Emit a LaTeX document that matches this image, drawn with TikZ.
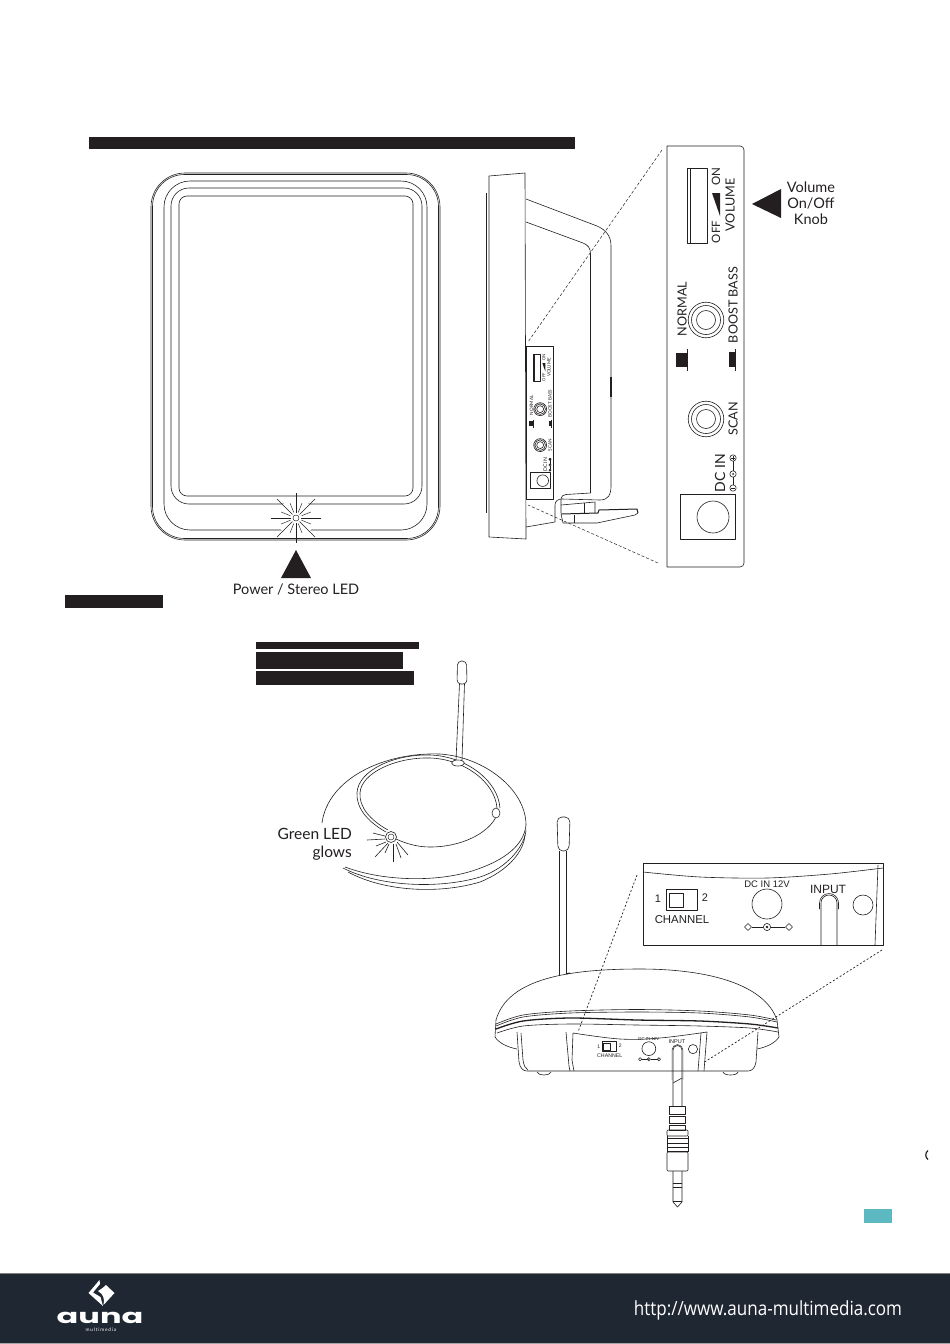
\documentclass[tikz,border=0pt]{standalone}
\usepackage{fontspec}
\setmainfont{Lato}
\newfontfamily\armfont{Liberation Sans}
\newfontfamily\webfont{Open Sans}
\newfontfamily\logofont{Poppins}
\definecolor{inkdark}{HTML}{231F20}
\definecolor{footbg}{HTML}{1F2733}
\definecolor{tealtab}{HTML}{5CB9C1}
\newcommand{\px}[1]{\fontsize{#1}{#1}\selectfont}
\tikzset{
    thinline/.style={draw=inkdark, line width=0.6pt, line join=round},
    hairline/.style={draw=inkdark, line width=0.45pt, line join=round},
    heavyline/.style={draw=inkdark, line width=1.3pt, line join=round},
    zoomline/.style={draw=inkdark, line width=0.5pt, dash pattern=on 3pt off 2pt},
    dotline/.style={draw=inkdark, line width=0.7pt, dash pattern=on 2pt off 2pt},
    pointer/.style={fill=inkdark},
    lbl/.style={text=inkdark, inner sep=0pt, align=center, font=\px{14.5}},
    sidelbl/.style={text=inkdark, inner sep=0pt, rotate=90, font=\px{12.6}},
    armlbl/.style={text=inkdark, inner sep=0pt, font=\armfont\px{#1}},
    % rear panel of the speaker
    sidepanel/.pic={
        \draw[thinline] (687,168) rectangle (707,243);
        \draw[hairline] (690,168) -- (690,243);
        \node[sidelbl, font=\px{11.5}] (off) at (716,232) {OFF};
        \node[sidelbl, font=\px{11.5}] (on) at (716,177) {ON};
        \fill[pointer] (712,193) -- (720,193) -- (720,216) -- cycle;
        \node[sidelbl] (vol) at (730,205) {VOLUME};
        \node[sidelbl] (norm) at (682,309) {NORMAL};
        \node[sidelbl] (boost) at (733,305) {BOOST BASS};
        \node[sidelbl] (scan) at (733,419) {SCAN};
        \node[sidelbl, font=\px{14}] (dcin) at (720,473) {DC IN};
        \foreach \cy in {320,419} {
            \draw[thinline] (706,\cy) circle (17.8) circle (14.5);
            \draw[thinline] (706,\cy) circle (9.5);
        }
        \fill[pointer] (676,353) rectangle (687,367);
        \draw[thinline] (687.5,349) -- (687.5,371);
        \fill[pointer] (729,352) rectangle (735,367);
        \draw[thinline] (735.5,349) -- (735.5,371);
        \draw[thinline] (733,458) circle (3.2) (733,474) circle (3.2) (733,488) circle (3.2);
        \draw[thinline] (733,461) -- (733,471) (733,477) -- (733,485);
        \draw[hairline] (731,458) -- (735,458) (733,456) -- (733,460) (731,488) -- (735,488);
        \fill[inkdark] (733,474) circle (1);
        \draw[thinline] (680,494) rectangle (735,539);
        \draw[thinline] (713,517) circle (16);
    },
    % rear panel of the transmitter
    basepanel/.pic={
        \draw[thinline] (666,889) rectangle (697,910);
        \draw[thinline] (669,893) rectangle (683,907);
        \node[armlbl=11] (one) at (658,899) {1};
        \node[armlbl=11] (two) at (705,898) {2};
        \node[armlbl=11.4] (chan) at (682,920) {CHANNEL};
        \node[armlbl=9.5] (dc) at (767,884) {DC IN 12V};
        \node[armlbl=12] (inp) at (828,889) {INPUT};
        \draw[thinline] (767,904) circle (15);
        \draw[thinline] (752,927) -- (763,927) (771,927) -- (785,927);
        \draw[thinline] (748,923.5) -- (751.5,927) -- (748,930.5) -- (744.5,927) -- cycle;
        \draw[thinline] (767,927) circle (3.6);
        \fill[inkdark] (767,927) circle (1.4);
        \draw[thinline] (789,923.5) -- (792.5,927) -- (789,930.5) -- (785.5,927) -- cycle;
        \draw[thinline] (863,905) circle (10);
    },
}
\begin{document}
\begin{tikzpicture}[x=1pt, y=-1pt]
    \useasboundingbox (0,0) rectangle (950,1344);

    % blacked out text bars
    \foreach \xa/\ya/\xb/\yb in {89/137/575/149, 65/595/163/608, 256/642/419/649, 256/652/403/669, 256/671/414/685} {
        \fill[inkdark] (\xa,\ya) rectangle (\xb,\yb);
    }

    % front of the speaker
    \foreach \xa/\ya/\xb/\yb/\rad in {151/173/440/540/34, 152.5/174.5/438.5/538.5/32, 164/181/427/530/26, 171/188/422/504/18, 179/196/413/496/8} {
        \draw[thinline, rounded corners=\rad pt] (\xa,\ya) rectangle (\xb,\yb);
    }
    \coordinate (led) at (296,518);
    \fill[white] (led) circle (19);
    \draw[hairline] (led) circle (3);
    \foreach \ang in {0,90,180,270} {
        \draw[thinline] (led) ++(\ang:5) -- ++(\ang:20);
    }
    \foreach \ang in {45,135,225,315} {
        \draw[hairline] (led) ++(\ang:5) -- ++(\ang:22);
    }
    \foreach \ang in {22,68,112,158,202,248,292,338} {
        \draw[hairline] (led) ++(\ang:6) -- ++(\ang:10);
    }
    \fill[pointer] (296,550) -- (311,578) -- (281,578) -- cycle;
    \node[lbl] (ledlbl) at (296,589.5) {Power / Stereo LED};

    % side of the speaker
    \draw[thinline] (489,176) -- (525,173) -- (526,539) -- (489,537) -- cycle;
    \draw[hairline] (486,193) -- (486,513);
    \draw[thinline] (526,199) -- (597,226) .. controls (606,230) and (611,236) .. (611,246) -- (611,486)
        .. controls (611,495) and (608,500) .. (600,500) -- (562,499)
        .. controls (558,499) and (555,501) .. (555,505) -- (555,522) -- (526,527);
    \draw[thinline] (526,222) -- (583,243) .. controls (588,245) and (590.5,248) .. (590.5,254) -- (590.5,493)
        -- (566,494.5) .. controls (560,495) and (561,500) .. (561,505) -- (561,513);
    \draw[line width=1.2pt, inkdark] (611,377) -- (611,397);
    \draw[thinline] (526,346) rectangle (553,499);
    \pic[shift={(283.9,293)}, scale=.363, every node/.append style={transform shape}] (smallpanel) {sidepanel};
    \draw[thinline] (561,505) -- (595,502) -- (595,513);
    \draw[thinline] (584,503) -- (584,513);
    \draw[heavyline, line width=1pt] (561,514) -- (598,513) -- (599,510) -- (637,509) -- (638,513);
    \draw[thinline] (638,513) -- (635,515) -- (597,523) -- (563,523) -- (561,514);
    \draw[thinline] (574,515) -- (574,523);

    % enlarged panel with its zoom lines
    \draw[thinline] (667,146) [rounded corners=4pt] -- (744,146) -- (744,567) [sharp corners] -- (667,567) -- cycle;
    \pic (bigpanel) {sidepanel};
    \coordinate (zoomtop) at (662,150);
    \coordinate (zoomtopb) at (528,342);
    \coordinate (zoomlow) at (658,563);
    \coordinate (zoomlowb) at (528,505);
    \draw[zoomline] (zoomtop) -- (zoomtopb);
    \draw[zoomline] (zoomlow) -- (zoomlowb);
    \fill[pointer] (752,204) -- (781,189) -- (781,218) -- cycle;
    \node[lbl] (vollbl) at (811,203) {Volume\\[1.5pt]On/Off\\[1.5pt]Knob};

    % transmitter seen from above
    \draw[thinline] (459.5,684) -- (456,760);
    \draw[thinline] (464.5,684) -- (462,760);
    \draw[thinline, rounded corners=4pt] (457,684) -- (457.5,661) -- (466.5,661) -- (467,684) -- cycle;
    \draw[thinline] (322,823) .. controls (328,778) and (385,752) .. (440,754) .. controls (485,757) and (526,790) .. (526,825);
    \draw[thinline] (345,867) .. controls (385,882) and (440,882) .. (475,870) .. controls (505,860) and (524,845) .. (526,825);
    \draw[thinline] (343,868) .. controls (380,887) and (440,889) .. (480,877) .. controls (508,868) and (525,845) .. (526,830);
    \draw[thinline] (348,872) .. controls (385,892) and (440,894) .. (480,882) .. controls (510,870) and (524,850) .. (525,835);
    \draw[thinline] (386,832) .. controls (368,822) and (356,808) .. (357,793) .. controls (358,770) and (395,754) .. (430,755) .. controls (465,756) and (498,780) .. (500,808);
    \draw[thinline] (388,830) .. controls (370,820) and (359,807) .. (360,793) .. controls (361,773) and (396,757) .. (430,758) .. controls (464,759) and (495,782) .. (497,808);
    \draw[thinline] (496,817) .. controls (488,833) and (462,847) .. (430,847) .. controls (418,847) and (407,844) .. (396,839);
    \draw[thinline, fill=white] (458,763) ellipse (6.5 and 3);
    \draw[thinline, fill=white] (496,813) ellipse (4 and 5);
    \draw[thinline, fill=white] (391,837) circle (5.5);
    \draw[hairline] (391,837) circle (3);
    \foreach \xa/\ya/\xb/\yb in {367/840/385/839, 373/833/385/836, 376/846/386/842, 375/857/388/843, 385/853/389/844, 393/862/393/844, 401/858/396/844, 408/855/397/842} {
        \draw[thinline] (\xa,\ya) -- (\xb,\yb);
    }
    \node[lbl, font=\px{15.5}, align=right, anchor=east] (greenlbl) at (352,844) {Green LED\\[2.5pt]glows};

    % transmitter from behind
    \draw[thinline] (559,851) -- (559,976) (566,851) -- (566,974);
    \draw[thinline, rounded corners=5pt] (558,851) -- (557,817) -- (570,817) -- (569,851) -- cycle;
    \draw[line width=1pt, inkdark] (566,974) -- (570,973);
    \draw[thinline] (496,1020) .. controls (508,978) and (570,969) .. (640,969) .. controls (710,969) and (765,985) .. (777,1020);
    \draw[thinline] plot[smooth, tension=.5] coordinates {(496,1024) (523,1015) (570,1011) (637,1009.5) (700,1011) (750,1015) (776,1020)};
    \draw[thinline] plot[smooth, tension=.5] coordinates {(496,1026) (523,1017) (570,1013) (637,1012) (700,1013) (750,1017) (777,1022)};
    \draw[heavyline] plot[smooth, tension=.5] coordinates {(496,1029) (523,1021) (570,1018) (637,1020) (700,1021) (750,1024) (778,1028)};
    \draw[thinline] plot[smooth, tension=.5] coordinates {(497,1033) (523,1026) (570,1024) (637,1025) (700,1026) (750,1028) (778,1032)};
    \draw[thinline] (496,1020) -- (495,1037) .. controls (499,1043) and (507,1047) .. (517,1049);
    \draw[thinline] (777,1020) -- (779,1037) .. controls (775,1043) and (767,1047) .. (757,1049);
    \draw[thinline] (517,1032) -- (519,1062) .. controls (520,1068) and (523,1071) .. (527,1071) -- (748,1071)
        .. controls (752,1071) and (755,1068) .. (756,1062) -- (758,1032);
    \draw[thinline] (521,1033) -- (523,1060) .. controls (524,1066) and (525,1068) .. (528,1070);
    \draw[thinline] (566,1032) -- (569,1066) -- (570,1071);
    \draw[thinline] (573,1033) -- (572,1060) -- (574,1071);
    \draw[thinline] (707,1032) -- (704,1071);
    \draw[thinline] (701,1033) -- (698,1071);
    \draw[thinline] plot[smooth, tension=.6] coordinates {(573,1033) (620,1039) (660,1038) (707,1032)};
    \draw[thinline] (537,1072) .. controls (538,1076) and (550,1076) .. (551,1072);
    \draw[thinline] (723,1072) .. controls (724,1076) and (737,1076) .. (738,1072);
    \pic[shift={(296,632.8)}, scale=.46, every node/.append style={transform shape}] (smallbase) {basepanel};

    % cable and plug
    \draw[thinline] (673,1106) -- (673,1050) arc (180:360:4.5) -- (682,1106);
    \draw[hairline] (672,1080) -- (672,1050) arc (180:360:5.5) -- (683,1080);
    \draw[thinline] (673,1083) -- (682,1078);
    \draw[thinline] (669,1106) rectangle (685,1114);
    \draw[thinline] (669,1116) rectangle (685,1123);
    \draw[thinline] (669,1125) rectangle (685,1130);
    \draw[thinline, rounded corners=1pt] (667,1130) rectangle (688,1136);
    \foreach \yr in {1138,1143,1147,1151} {
        \draw[thinline] (667.5,\yr) -- (687.5,\yr);
    }
    \draw[thinline] (667,1136) -- (667,1152) (688,1136) -- (688,1152);
    \draw[thinline, rounded corners=1pt] (667,1152) rectangle (688,1171);
    \draw[thinline] (673,1171) -- (673,1202) -- (677.5,1207) -- (682,1202) -- (682,1171);
    \foreach \yr in {1183,1187,1201} {
        \draw[thinline] (673,\yr) -- (682,\yr);
    }

    % enlarged rear panel
    \draw[thinline] (643,863) -- (883,863) -- (883,945) -- (643,945) -- cycle;
    \draw[thinline] plot[smooth, tension=.5] coordinates {(643,872) (700,877) (767,878) (830,874) (883,868)};
    \draw[thinline] (878,865) -- (875,945);
    \draw[thinline] (821,945) -- (821,903) arc (180:360:8) -- (837,945);
    \draw[thinline] (819.5,903) arc (180:360:9.5) -- (838.5,909) (819.5,903) -- (819.5,909);
    \pic (bigbase) {basepanel};
    \coordinate (dotleft) at (637,875);
    \coordinate (dotleftb) at (578,1032);
    \coordinate (dotright) at (882,950);
    \coordinate (dotrightb) at (703,1063);
    \draw[dotline] (dotleft) -- (dotleftb);
    \draw[dotline] (dotright) -- (dotrightb);

    % stray edge marks
    \draw[line width=1.2pt, inkdark] (928,1150.5) .. controls (925,1153) and (925,1157) .. (928,1159.5);
    \fill[tealtab] (864,1209) rectangle (892,1223);

    % footer
    \fill[footbg] (0,1273) rectangle (950,1344);
    \draw[gray, line width=.8pt] (0,1273.4) -- (950,1273.4);
    \draw[gray!70, line width=.6pt] (0,1343.7) -- (950,1343.7);
    \fill[white] (99.5,1280) -- (88.5,1293) -- (103,1306) -- (100.5,1297) -- (93,1292.5) -- (100,1284) -- cycle;
    \fill[white] (106,1285) -- (114.5,1293) -- (103.5,1305) .. controls (105,1298) and (103,1294) .. (98,1291) .. controls (101,1289) and (103,1288) .. (106,1285) -- cycle;
    \node[text=white, inner sep=0pt, xscale=1.6, transform shape, font=\logofont\bfseries\px{20}] (logoname) at (100,1317.5) {auna};
    \node[text=white, inner sep=0pt, font=\px{4.8}] (logosub) at (101,1329.5) {m\,u\,l\,t\,i\,m\,e\,d\,i\,a};
    \node[text=white, inner sep=0pt, xscale=.873, transform shape, font=\webfont\px{19.5}] (weburl) at (768,1310.5) {http://www.auna-multimedia.com};
\end{tikzpicture}
\end{document}
